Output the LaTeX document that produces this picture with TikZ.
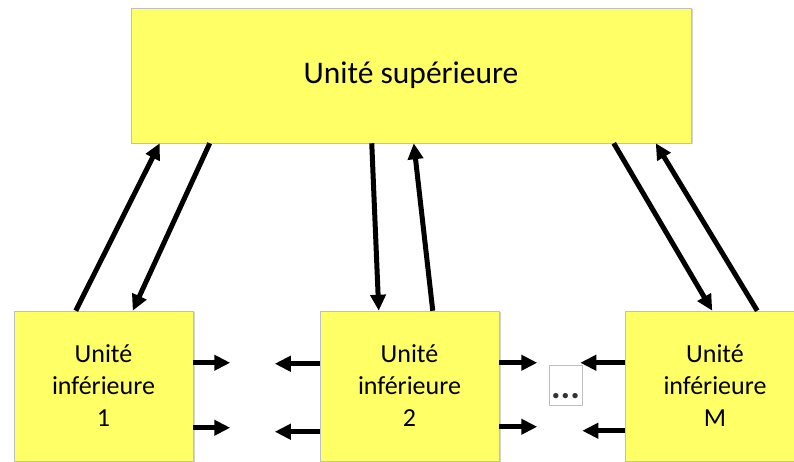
\documentclass[tikz,border=0pt]{standalone}
\usepackage{fontspec}
\setmainfont{Carlito}
\usetikzlibrary{%
	arrows.meta,%
	shadows%
}
\definecolor{boxyellow}{HTML}{FFFF66}
\definecolor{boxgray}{HTML}{BFBFBF}

\begin{document}
\begin{tikzpicture}[x=1pt, y=1pt,
	unit/.style={draw=boxgray, line width=0.5pt, fill=boxyellow, drop shadow={shadow xshift=1.5pt, shadow yshift=-1.5pt, opacity=0.35}},
	lowunit/.style={unit, minimum width=179pt, minimum height=150pt, align=center, font=\fontsize{26}{32}\selectfont},
	flow/.style={line width=5pt, -{Triangle[length=16pt, width=15pt]}},
	gapbox/.style={draw=boxgray, line width=0.6pt, inner xsep=1pt, minimum width=33pt, minimum height=40pt, text height=30pt, text depth=3pt, text=black!80, font=\fontsize{36}{40}\selectfont\bfseries}
]
	\useasboundingbox (0,0) rectangle (794,462);
	% Units
	\node[unit, minimum width=560pt, minimum height=135pt, font=\fontsize{31.5}{36}\selectfont] (sup) at (411,386.5) {Unité supérieure};
	\node[lowunit] (inf1) at (103.5,76) {Unité\\inférieure\\1};
	\node[lowunit] (inf2) at (409.5,76) {Unité\\inférieure\\2};
	\node[lowunit] (infM) at (715,76) {Unité\\inférieure\\M};
	\node[gapbox] (gap) at (565.5,77) {...};
	% Vertical links
	\draw[flow] ([xshift=62pt]inf1.north west) -- ([xshift=29pt]sup.south west);
	\draw[flow] ([xshift=79pt]sup.south west) -- ([xshift=119pt]inf1.north west);
	\draw[flow] ([xshift=241pt]sup.south west) -- ([xshift=59pt]inf2.north west);
	\draw[flow] ([xshift=113pt]inf2.north west) -- ([xshift=283pt]sup.south west);
	\draw[flow] ([xshift=483pt]sup.south west) -- ([xshift=87pt]infM.north west);
	\draw[flow] ([xshift=132pt]infM.north west) -- ([xshift=525pt]sup.south west);
	% Horizontal links
	\draw[flow] ([yshift=-52pt]inf1.north east) -- ++(37,0);
	\draw[flow] ([yshift=-117pt]inf1.north east) -- ++(37,0);
	\draw[flow] ([yshift=-53pt]inf2.north west) -- ++(-45,0);
	\draw[flow] ([yshift=-121pt]inf2.north west) -- ++(-45,0);
	\draw[flow] ([yshift=-52pt]inf2.north east) -- ++(38,0);
	\draw[flow] ([yshift=-116pt]inf2.north east) -- ++(38,0);
	\draw[flow] ([yshift=-52pt]infM.north west) -- ++(-45,0);
	\draw[flow] ([yshift=-120pt]infM.north west) -- ++(-43,0);
\end{tikzpicture}
\end{document}
